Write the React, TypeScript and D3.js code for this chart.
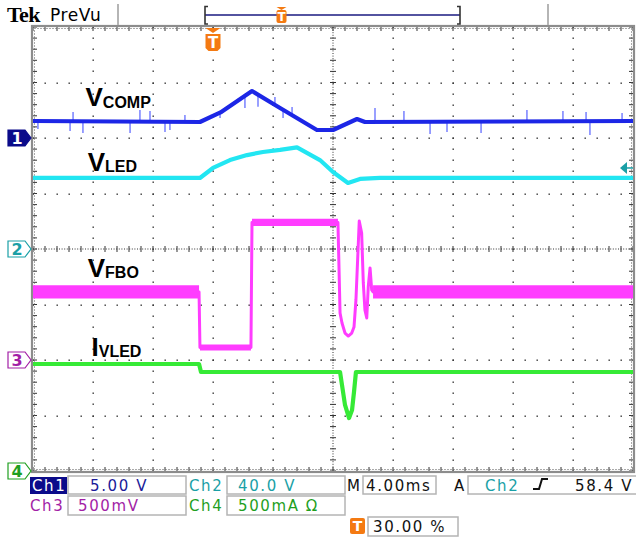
import React, { useEffect, useRef } from 'react'
import * as d3 from 'd3'

// time in ms (M 4.00ms/div, 10 div), values in each channel's own units
const ch1Points = [
  [0, 1.53], [11.13, 1.44], [12.5, 2.3], [14.6, 4.23], [16.47, 2.7],
  [18.93, 0.72], [20.0, 0.72], [21.6, 1.71], [22.13, 1.44], [40, 1.53],
]
// VCOMP glitches: [time, tip value]
const ch1Spikes = [
  [0.33, 0.81], [2.47, 0.63], [2.67, 2.34], [3.33, 0.45], [6.47, 0.45],
  [7.13, 2.52], [7.8, 2.43], [8.8, 0.54], [9.13, 0.72], [10.13, 2.07],
  [12.47, 1.8], [14.13, 2.7], [15.0, 2.82], [16.13, 3.69], [16.67, 1.8],
  [17.27, 2.79], [22.8, 2.7], [24.73, 2.43], [26.47, 0.36], [27.6, 0.54],
  [29.87, 0.45], [32.93, 2.52], [35.33, 2.43], [36.87, 2.34], [37.13, 0.27],
  [39.27, 2.25],
]
const ch2Points = [
  [0, 51.2], [11.13, 51.2], [12.0, 58.4], [13.13, 64.1], [14.27, 67.7],
  [15.33, 69.9], [16.47, 71.4], [17.6, 73.2], [19.13, 64.1], [20.0, 55.5],
  [21.0, 47.6], [21.8, 50.5], [23.13, 51.2], [40, 51.2],
]
const ch3Points = [
  [0, 0.613], [11.07, 0.613], [11.13, 0.113], [14.53, 0.113], [14.6, 1.239],
  [20.33, 1.239], [20.47, 0.423], [20.6, 0.333], [20.8, 0.243], [21.02, 0.216],
  [21.25, 0.243], [21.4, 0.297], [21.53, 0.541], [21.75, 1.252], [21.91, 1.144],
  [22.02, 0.694], [22.13, 0.45], [22.25, 0.378], [22.35, 0.658], [22.47, 0.829],
  [22.58, 0.631], [22.67, 0.613], [40, 0.613],
]
// VFBO noise bands: [from, to, level, peak-to-peak]
const ch3Noise = [
  [0, 11.07, 0.613, 0.12],
  [11.13, 14.53, 0.113, 0.055],
  [14.6, 20.33, 1.239, 0.065],
  [22.67, 40, 0.613, 0.12],
]
const ch4Points = [
  [0, 0.964], [11.07, 0.964], [11.2, 0.892], [20.47, 0.892], [20.6, 0.775],
  [20.8, 0.595], [21.07, 0.477], [21.27, 0.55], [21.4, 0.712], [21.53, 0.892],
  [40, 0.892],
]

const channels = [
  { id: '1', perDiv: 5, offset: 2, trace: '#1c26e6', label: '#1a1a99', points: ch1Points },
  { id: '2', perDiv: 40, offset: 0, trace: '#22e6f2', label: '#1a9fa6', points: ch2Points },
  { id: '3', perDiv: 0.5, offset: -2, trace: '#ff3cff', label: '#a21ea6', points: ch3Points },
  { id: '4', perDiv: 0.5, offset: -4, trace: '#36ea36', label: '#1f9f1f', points: ch4Points },
]

const traceLabels = [
  { big: 'V', sub: 'COMP', t: 3.5, ch: 0, v: 1.53, gap: 15 },
  { big: 'V', sub: 'LED', t: 3.65, ch: 1, v: 51.2, gap: 7 },
  { big: 'V', sub: 'FBO', t: 3.65, ch: 2, v: 0.613, gap: 15 },
  { big: 'I', sub: 'VLED', t: 3.9, ch: 3, v: 0.964, gap: 8 },
]

const triggerPct = 30
const triggerLevel = 58.4

const App = () => {
  const svgRef = useRef(null)

  useEffect(() => {
    document.body.style.margin = '0'
    const svg = d3.select(svgRef.current)
    svg.selectAll('*').remove()

    const x = d3.scaleLinear().domain([0, 40]).range([33, 633])
    const yDiv = d3.scaleLinear().domain([-4, 4]).range([471, 27])
    const yOf = (ch) => (v) => yDiv(ch.offset + v / ch.perDiv)
    const sans = 'DejaVu Sans, sans-serif'
    const orange = '#f47a12'
    const gridC = '#333'

    svg.append('rect').attr('width', 636).attr('height', 540).attr('fill', '#fff')

    // ---- graticule
    const grid = svg.append('g')
    const majorT = d3.range(0, 40.01, 4)
    const minorT = d3.range(0, 40.01, 0.8)
    const majorD = d3.range(-4, 4.01, 1)
    const minorD = d3.range(-4, 4.01, 0.2)
    const dot = (px, py) =>
      grid.append('rect').attr('x', Math.round(px) - 0.5).attr('y', Math.round(py) - 0.5)
        .attr('width', 1.4).attr('height', 1.4).attr('fill', gridC)

    majorT.slice(1, -1).filter((t) => t !== 20).forEach((t) =>
      minorD.forEach((d) => dot(x(t), yDiv(d))))
    majorD.slice(1, -1).filter((d) => d !== 0).forEach((d) =>
      minorT.forEach((t) => dot(x(t), yDiv(d))))

    // center cross, dense with ticks
    grid.append('line').attr('x1', x(20)).attr('x2', x(20)).attr('y1', 27).attr('y2', 471)
      .attr('stroke', gridC).attr('stroke-dasharray', '1,1.6')
    grid.append('line').attr('x1', 33).attr('x2', 633).attr('y1', yDiv(0)).attr('y2', yDiv(0))
      .attr('stroke', gridC).attr('stroke-dasharray', '1,1.6')
    minorD.forEach((d) => grid.append('line').attr('x1', x(20) - 3).attr('x2', x(20) + 3)
      .attr('y1', yDiv(d)).attr('y2', yDiv(d)).attr('stroke', gridC))
    minorT.forEach((t) => grid.append('line').attr('x1', x(t)).attr('x2', x(t))
      .attr('y1', yDiv(0) - 3).attr('y2', yDiv(0) + 3).attr('stroke', gridC))

    // border ticks
    minorT.forEach((t) => {
      grid.append('line').attr('x1', x(t)).attr('x2', x(t)).attr('y1', 27).attr('y2', 31).attr('stroke', gridC)
      grid.append('line').attr('x1', x(t)).attr('x2', x(t)).attr('y1', 467).attr('y2', 471).attr('stroke', gridC)
    })
    minorD.forEach((d) => {
      grid.append('line').attr('x1', 33).attr('x2', 37).attr('y1', yDiv(d)).attr('y2', yDiv(d)).attr('stroke', gridC)
      grid.append('line').attr('x1', 629).attr('x2', 633).attr('y1', yDiv(d)).attr('y2', yDiv(d)).attr('stroke', gridC)
    })
    grid.append('rect').attr('x', 34.5).attr('y', 28.5).attr('width', 597).attr('height', 441)
      .attr('fill', 'none').attr('stroke', '#555').attr('stroke-dasharray', '1,2')
    grid.append('rect').attr('x', 32).attr('y', 26).attr('width', 602).attr('height', 446)
      .attr('fill', 'none').attr('stroke', '#8c8c8c').attr('stroke-width', 2.2)

    // ---- traces
    const traces = svg.append('g')
    channels.forEach((ch, i) => {
      const y = yOf(ch)
      const line = d3.line().x((d) => x(d[0])).y((d) => y(d[1]))
      if (i === 0) {
        const along = d3.scaleLinear().domain(ch.points.map((p) => p[0])).range(ch.points.map((p) => p[1]))
        traces.selectAll('.spike').data(ch1Spikes).join('line')
          .attr('x1', (d) => x(d[0])).attr('x2', (d) => x(d[0]))
          .attr('y1', (d) => y(along(d[0])))
          .attr('y2', (d) => y(d[1]))
          .attr('stroke', '#5560ff').attr('stroke-width', 1.2)
      }
      if (i === 2) {
        traces.selectAll('.band').data(ch3Noise).join('line')
          .attr('x1', (d) => x(d[0])).attr('x2', (d) => x(d[1]))
          .attr('y1', (d) => y(d[2])).attr('y2', (d) => y(d[2]))
          .attr('stroke', ch.trace)
          .attr('stroke-width', (d) => yDiv(0) - yDiv(d[3] / ch.perDiv))
      }
      traces.append('path').datum(ch.points).attr('d', line)
        .attr('fill', 'none').attr('stroke', ch.trace)
        .attr('stroke-width', i === 2 ? 3 : 4.2)
        .attr('stroke-linejoin', 'round')
    })

    // ---- trace labels
    traceLabels.forEach((l) => {
      const ch = channels[l.ch]
      const base = yOf(ch)(l.v) - l.gap
      const t = svg.append('text').attr('x', x(l.t)).attr('y', base)
        .attr('font-family', 'Liberation Sans, Arial, sans-serif').attr('font-weight', 'bold')
      t.append('tspan').attr('font-size', 26).text(l.big)
      t.append('tspan').attr('font-size', 16).attr('dy', 1.5).text(l.sub)
    })

    // ---- channel ground markers
    channels.forEach((ch, i) => {
      const cy = yDiv(ch.offset)
      const g = svg.append('g')
      g.append('path')
        .attr('d', `M8,${cy - 8} H25 L31,${cy} L25,${cy + 8} H8 Z`)
        .attr('fill', i === 0 ? '#0b0b8a' : '#fff')
        .attr('stroke', i === 0 ? '#0b0b8a' : ch.label).attr('stroke-width', 1.2)
      g.append('text').attr('x', 17).attr('y', cy + 6).attr('text-anchor', 'middle')
        .attr('font-family', sans).attr('font-size', 16).attr('font-weight', 'bold')
        .attr('fill', i === 0 ? '#fff' : ch.label).text(ch.id)
    })

    // trigger level marker (Ch2) on right edge
    const ty = yOf(channels[1])(triggerLevel)
    svg.append('path').attr('d', `M620,${ty} L627,${ty - 6} V${ty + 6} Z`).attr('fill', '#1a9fa6')
    svg.append('line').attr('x1', 627).attr('x2', 633).attr('y1', ty).attr('y2', ty)
      .attr('stroke', '#1a9fa6').attr('stroke-width', 1.5)

    // trigger position marker
    const tx = x((triggerPct / 100) * 40)
    const tMark = (g, cx, top, w, h) => {
      g.append('path').attr('d', `M${cx - w / 2},${top} H${cx + w / 2} L${cx},${top + 5} Z`).attr('fill', orange)
      g.append('path')
        .attr('d', `M${cx - w / 2},${top + 6} H${cx + w / 2} V${top + 6 + h - 3} L${cx + w / 2 - 3},${top + 6 + h} H${cx - w / 2 + 3} L${cx - w / 2},${top + 6 + h - 3} Z`)
        .attr('fill', orange)
      g.append('text').attr('x', cx).attr('y', top + 6 + h - 3).attr('text-anchor', 'middle')
        .attr('font-family', sans).attr('font-weight', 'bold').attr('font-size', h - 2)
        .attr('fill', '#fff').text('T')
    }
    tMark(svg.append('g'), tx, 28, 15, 17)

    // ---- header
    svg.append('text').attr('x', 7).attr('y', 22).attr('font-family', 'Liberation Serif, serif')
      .attr('font-weight', 'bold').attr('font-size', 22).attr('letter-spacing', -0.6).text('Tek')
    svg.append('text').attr('x', 50).attr('y', 21).attr('font-family', sans)
      .attr('font-size', 17).attr('letter-spacing', 0.6).text('PreVu')
    ;[118, 548].forEach((sx) => svg.append('line').attr('x1', sx).attr('x2', sx).attr('y1', 4).attr('y2', 25)
      .attr('stroke', '#b5b5b5').attr('stroke-width', 2))
    svg.append('line').attr('x1', 205).attr('x2', 460).attr('y1', 15).attr('y2', 15)
      .attr('stroke', '#1a1a80').attr('stroke-width', 1.5)
    svg.append('path').attr('d', 'M208,6.5 H205 V24 H208 M457,6.5 H460 V24 H457')
      .attr('fill', 'none').attr('stroke', '#333').attr('stroke-width', 1.6)
    const hx = 205 + (triggerPct / 100) * 255
    const hg = svg.append('g')
    hg.append('path').attr('d', `M${hx - 5},7 H${hx + 5} L${hx},10 Z`).attr('fill', orange)
    hg.append('rect').attr('x', hx - 5).attr('y', 10).attr('width', 10).attr('height', 13).attr('rx', 2).attr('fill', orange)
    hg.append('text').attr('x', hx).attr('y', 21).attr('text-anchor', 'middle').attr('font-family', sans)
      .attr('font-weight', 'bold').attr('font-size', 12).attr('fill', '#fff').text('T')

    // ---- readout
    const rd = svg.append('g').attr('font-family', sans).attr('font-size', 15).attr('letter-spacing', 1.6)
    const box = (x0, y0, x1, y1) => rd.append('rect').attr('x', x0).attr('y', y0)
      .attr('width', x1 - x0).attr('height', y1 - y0).attr('fill', '#fff')
      .attr('stroke', '#b4b4b4').attr('stroke-width', 1.5)
    const txt = (tx0, ty0, s, c) => rd.append('text').attr('x', tx0).attr('y', ty0).attr('fill', c).text(s)

    rd.append('rect').attr('x', 30).attr('y', 477).attr('width', 37).attr('height', 17).attr('fill', '#0b0b8a')
    txt(32, 491, 'Ch1', '#fff')
    box(68, 476, 186, 494); txt(90, 491, '5.00 V', channels[0].label)
    txt(189, 491, 'Ch2', channels[1].label)
    box(227, 476, 345, 494); txt(238, 491, '40.0 V', channels[1].label)
    txt(347, 491, 'M', '#111')
    box(363, 476, 436, 494); txt(366, 491, '4.00ms', '#111')
    txt(454, 491, 'A', '#111')
    box(468, 476, 640, 494); txt(485, 491, 'Ch2', channels[1].label)
    rd.append('path').attr('d', 'M533,489 H539 L542,479 H548').attr('fill', 'none').attr('stroke', '#111').attr('stroke-width', 2)
    txt(575, 491, `${triggerLevel} V`, '#111')

    txt(30, 511, 'Ch3', channels[2].label)
    box(68, 496, 186, 515); txt(78, 511, '500mV', channels[2].label)
    txt(189, 511, 'Ch4', channels[3].label)
    box(227, 496, 345, 515); txt(238, 511, '500mA Ω', channels[3].label)

    rd.append('rect').attr('x', 350).attr('y', 518).attr('width', 15).attr('height', 16).attr('rx', 2).attr('fill', orange)
    rd.append('text').attr('x', 357.5).attr('y', 531).attr('text-anchor', 'middle').attr('font-weight', 'bold')
      .attr('letter-spacing', 0).attr('font-size', 14).attr('fill', '#fff').text('T')
    box(368, 517, 458, 536); txt(373, 532, `${triggerPct.toFixed(2)} %`, '#111')
  }, [])

  return <svg ref={svgRef} width={636} height={540} style={{ display: 'block' }} />
}

export default App
